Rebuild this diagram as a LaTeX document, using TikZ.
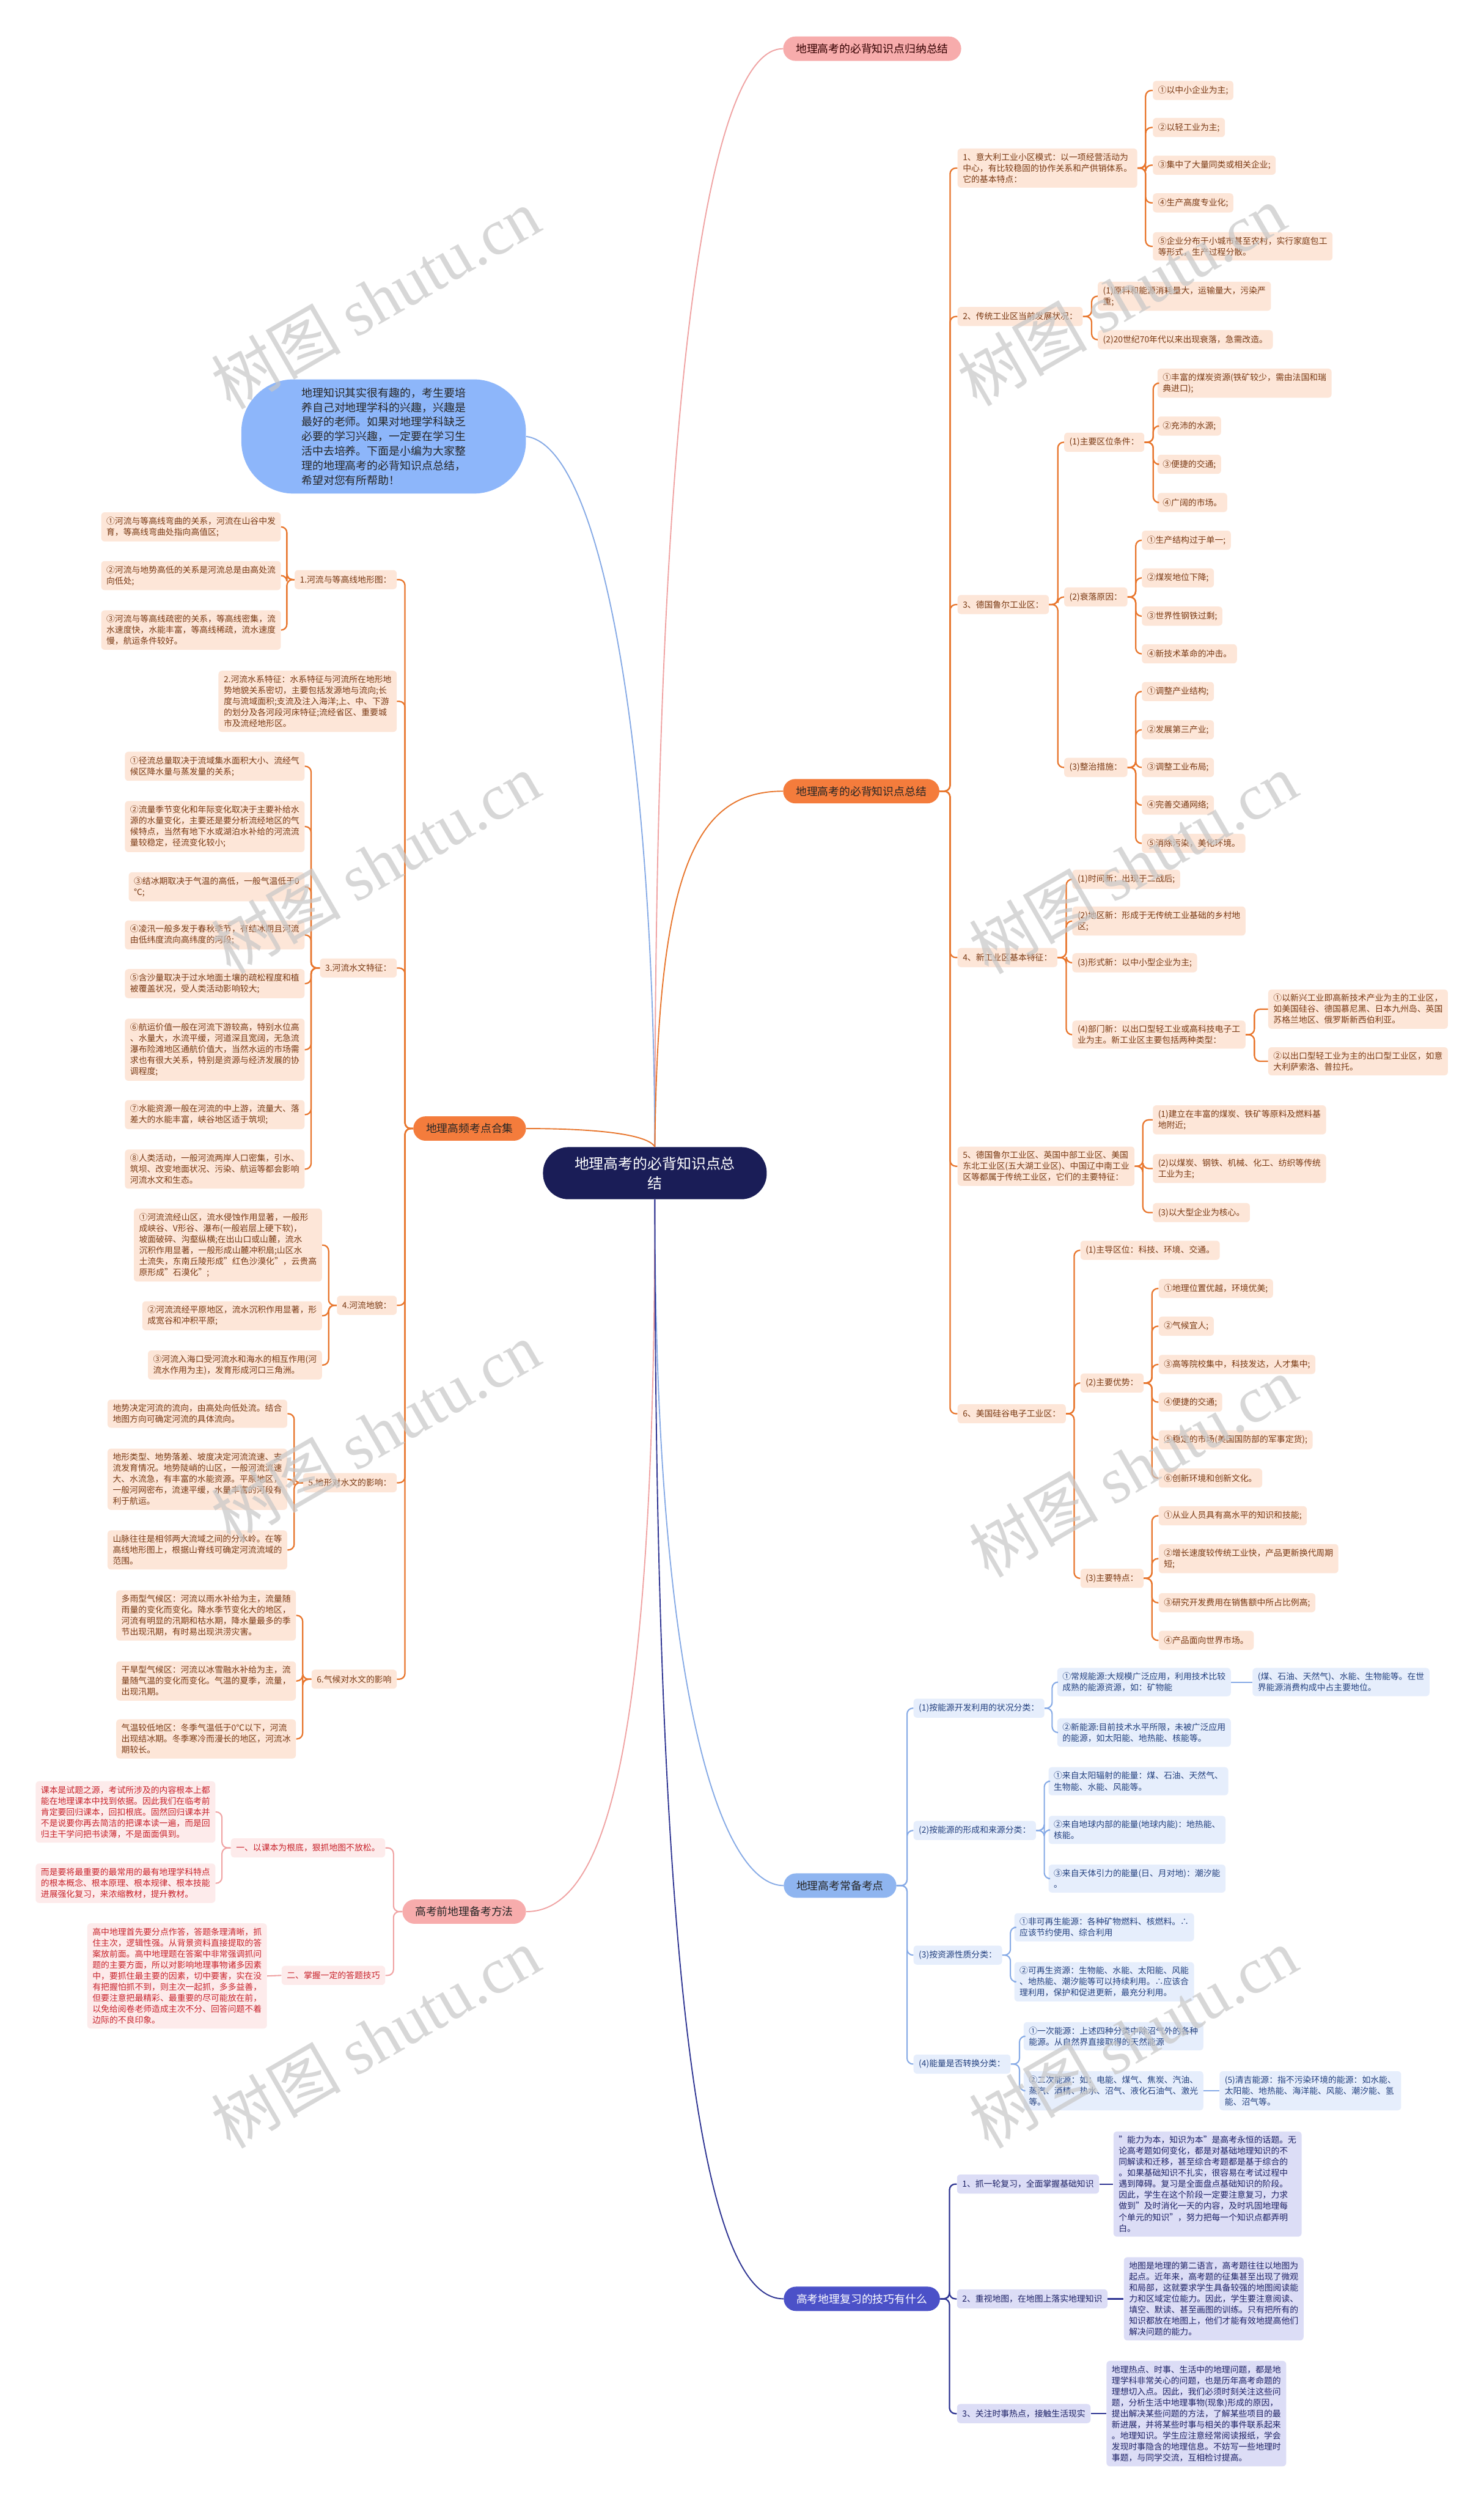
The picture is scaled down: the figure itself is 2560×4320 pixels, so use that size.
\documentclass[tikz,border=0pt]{standalone}
\usepackage{fontspec}
\setmainfont{Noto Sans CJK SC}
\newfontfamily\wmserif{Liberation Serif}
\usetikzlibrary{calc}
\definecolor{peachbg}{HTML}{FDE6D8}
\definecolor{peachtx}{HTML}{7A3A14}
\definecolor{orline}{HTML}{E8762D}
\definecolor{orfill}{HTML}{F47C3C}
\definecolor{pinkbg}{HTML}{FDEBEB}
\definecolor{pinktx}{HTML}{C8232C}
\definecolor{pkline}{HTML}{F0A3A3}
\definecolor{pkfill}{HTML}{F7ACAC}
\definecolor{bluebg}{HTML}{E6EEFC}
\definecolor{bluetx}{HTML}{23407E}
\definecolor{blline}{HTML}{86AAE6}
\definecolor{blfill}{HTML}{8FB5F0}
\definecolor{introfill}{HTML}{8DB6FA}
\definecolor{indbg}{HTML}{DCDDF6}
\definecolor{indtx}{HTML}{1E2266}
\definecolor{inline}{HTML}{2F3593}
\definecolor{indfill}{HTML}{4B51C8}
\definecolor{rootfill}{HTML}{1A1D57}
\tikzset{
  basebox/.style={font=\fontsize{7.3}{9.5}\selectfont, align=left, inner xsep=4.5pt, inner ysep=4pt, rounded corners=3pt, minimum height=16.5pt},
  pcx/.style={basebox, fill=peachbg, text=peachtx},
  pkx/.style={basebox, fill=pinkbg, text=pinktx},
  blx/.style={basebox, fill=bluebg, text=bluetx},
  inx/.style={basebox, fill=indbg, text=indtx},
  brx/.style={font=\fontsize{9.4}{12}\selectfont, rounded corners=10.5pt, minimum height=21pt, inner xsep=11pt, inner ysep=3pt},
  oln/.style={draw=orline, line width=1.2pt, rounded corners=5pt},
  pkln/.style={draw=pkline, line width=1.1pt, rounded corners=5pt},
  blln/.style={draw=blline, line width=1.1pt, rounded corners=5pt},
  inln/.style={draw=inline, line width=1.2pt, rounded corners=5pt},
  wmk/.style={text=black!22, opacity=0.7, font=\fontsize{56}{60}\selectfont, rotate=30}
}
\begin{document}
\begin{tikzpicture}[x=0.5pt,y=-0.5pt]
\useasboundingbox[fill=white] (0,0) rectangle (2560,4320);

% root and main branches
\node[fill=rootfill, text=white, font=\fontsize{12.6}{17}\selectfont, align=center, minimum width=193pt, minimum height=45pt, rounded corners=22pt] (root) at (1130,2024) {地理高考的必背知识点总\\结};
\node[brx, fill=pkfill, text=black!80!red, anchor=west] (b1) at (1351,84) {地理高考的必背知识点归纳总结};
\node[brx, fill=orfill, text=black!85, anchor=west] (b2) at (1351,1365) {地理高考的必背知识点总结};
\node[brx, fill=orfill, text=black!85, anchor=east] (b3) at (908,1947) {地理高频考点合集};
\node[brx, fill=pkfill, text=black!85, anchor=west] (b4) at (694,3298) {高考前地理备考方法};
\node[brx, fill=blfill, text=black!85, anchor=west] (b5) at (1352,3253) {地理高考常备考点};
\node[brx, fill=indfill, text=white, anchor=west] (b6) at (1352,3966) {高考地理复习的技巧有什么};
\node[fill=introfill, text=black!85, font=\fontsize{9.45}{12.6}\selectfont, align=left, minimum width=245.5pt, minimum height=98.5pt, rounded corners=45pt] (intro) at (662,753) {地理知识其实很有趣的，考生要培\\养自己对地理学科的兴趣，兴趣是\\最好的老师。如果对地理学科缺乏\\必要的学习兴趣，一定要在学习生\\活中去培养。下面是小编为大家整\\理的地理高考的必背知识点总结，\\希望对您有所帮助！};

\draw[draw=pkline, line width=1pt] (root.north) .. controls (1130,600) and (1230,84) .. (b1.west);
\draw[draw=blline, line width=1pt] (intro.east) .. controls (1040,770) and (1128,1300) .. (root.north);
\draw[draw=orline, line width=1pt] (root.north) .. controls (1135,1500) and (1200,1365) .. (b2.west);
\draw[draw=orline, line width=1pt] (b3.east) .. controls (1050,1947) and (1120,1960) .. (root.north);
\draw[draw=pkline, line width=1pt] (root.south) .. controls (1130,3000) and (1050,3298) .. (b4.east);
\draw[draw=blline, line width=1pt] (root.south) .. controls (1130,2950) and (1250,3253) .. (b5.west);
\draw[draw=inline, line width=1pt] (root.south) .. controls (1130,3700) and (1250,3966) .. (b6.west);

% ===== branch 2 (orange, right) =====
\node[pcx, anchor=west] (c1) at (1652,290) {1、意大利工业小区模式：以一项经营活动为\\中心，有比较稳固的协作关系和产供销体系。\\它的基本特点：};
\node[pcx, anchor=west] (c1a) at (1989,156) {①以中小企业为主;};
\node[pcx, anchor=west] (c1b) at (1989,220) {②以轻工业为主;};
\node[pcx, anchor=west] (c1c) at (1989,285) {③集中了大量同类或相关企业;};
\node[pcx, anchor=west] (c1d) at (1989,350) {④生产高度专业化;};
\node[pcx, anchor=west] (c1e) at (1989,425) {⑤企业分布于小城市甚至农村，实行家庭包工\\等形式，生产过程分散。};
\node[pcx, anchor=west] (c2) at (1652,546) {2、传统工业区当前发展状况：};
\node[pcx, anchor=west] (c2a) at (1894,511) {(1)原料和能源消耗量大，运输量大，污染严\\重;};
\node[pcx, anchor=west] (c2b) at (1894,586) {(2)20世纪70年代以来出现衰落，急需改造。};
\node[pcx, anchor=west] (c3) at (1652,1043) {3、德国鲁尔工业区：};
\node[pcx, anchor=west] (c3a) at (1836,763) {(1)主要区位条件：};
\node[pcx, anchor=west] (c3a1) at (1997,661) {①丰富的煤炭资源(铁矿较少，需由法国和瑞\\典进口);};
\node[pcx, anchor=west] (c3a2) at (1997,735) {②充沛的水源;};
\node[pcx, anchor=west] (c3a3) at (1997,801) {③便捷的交通;};
\node[pcx, anchor=west] (c3a4) at (1997,867) {④广阔的市场。};
\node[pcx, anchor=west] (c3b) at (1836,1030) {(2)衰落原因：};
\node[pcx, anchor=west] (c3b1) at (1970,932) {①生产结构过于单一;};
\node[pcx, anchor=west] (c3b2) at (1970,997) {②煤炭地位下降;};
\node[pcx, anchor=west] (c3b3) at (1970,1063) {③世界性钢铁过剩;};
\node[pcx, anchor=west] (c3b4) at (1970,1128) {④新技术革命的冲击。};
\node[pcx, anchor=west] (c3c) at (1836,1324) {(3)整治措施：};
\node[pcx, anchor=west] (c3c1) at (1970,1193) {①调整产业结构;};
\node[pcx, anchor=west] (c3c2) at (1970,1259) {②发展第三产业;};
\node[pcx, anchor=west] (c3c3) at (1970,1324) {③调整工业布局;};
\node[pcx, anchor=west] (c3c4) at (1970,1389) {④完善交通网络;};
\node[pcx, anchor=west] (c3c5) at (1970,1455) {⑤消除污染，美化环境。};
\node[pcx, anchor=west] (c4) at (1652,1652) {4、新工业区基本特征：};
\node[pcx, anchor=west] (c4a) at (1850,1517) {(1)时间新：出现于二战后;};
\node[pcx, anchor=west] (c4b) at (1850,1589) {(2)地区新：形成于无传统工业基础的乡村地\\区;};
\node[pcx, anchor=west] (c4c) at (1850,1661) {(3)形式新：以中小型企业为主;};
\node[pcx, anchor=west] (c4d) at (1850,1785) {(4)部门新：以出口型轻工业或高科技电子工\\业为主。新工业区主要包括两种类型：};
\node[pcx, anchor=west] (c4d1) at (2188,1741) {①以新兴工业即高新技术产业为主的工业区，\\如美国硅谷、德国慕尼黑、日本九州岛、英国\\苏格兰地区、俄罗斯新西伯利亚。};
\node[pcx, anchor=west] (c4d2) at (2188,1831) {②以出口型轻工业为主的出口型工业区，如意\\大利萨索洛、普拉托。};
\node[pcx, anchor=west] (c5) at (1652,2012) {5、德国鲁尔工业区、英国中部工业区、美国\\东北工业区(五大湖工业区)、中国辽中南工业\\区等都属于传统工业区，它们的主要特征：};
\node[pcx, anchor=west] (c5a) at (1989,1932) {(1)建立在丰富的煤炭、铁矿等原料及燃料基\\地附近;};
\node[pcx, anchor=west] (c5b) at (1989,2016) {(2)以煤炭、钢铁、机械、化工、纺织等传统\\工业为主;};
\node[pcx, anchor=west] (c5c) at (1989,2092) {(3)以大型企业为核心。};
\node[pcx, anchor=west] (c6) at (1652,2439) {6、美国硅谷电子工业区：};
\node[pcx, anchor=west] (c6a) at (1864,2157) {(1)主导区位：科技、环境、交通。};
\node[pcx, anchor=west] (c6b) at (1864,2386) {(2)主要优势：};
\node[pcx, anchor=west] (c6b1) at (1999,2223) {①地理位置优越，环境优美;};
\node[pcx, anchor=west] (c6b2) at (1999,2288) {②气候宜人;};
\node[pcx, anchor=west] (c6b3) at (1999,2354) {③高等院校集中，科技发达，人才集中;};
\node[pcx, anchor=west] (c6b4) at (1999,2419) {④便捷的交通;};
\node[pcx, anchor=west] (c6b5) at (1999,2484) {⑤稳定的市场(美国国防部的军事定货);};
\node[pcx, anchor=west] (c6b6) at (1999,2550) {⑥创新环境和创新文化。};
\node[pcx, anchor=west] (c6c) at (1864,2723) {(3)主要特点：};
\node[pcx, anchor=west] (c6c1) at (1999,2615) {①从业人员具有高水平的知识和技能;};
\node[pcx, anchor=west] (c6c2) at (1999,2689) {②增长速度较传统工业快，产品更新换代周期\\短;};
\node[pcx, anchor=west] (c6c3) at (1999,2765) {③研究开发费用在销售额中所占比例高;};
\node[pcx, anchor=west] (c6c4) at (1999,2830) {④产品面向世界市场。};

\foreach \c in {c1,c2,c3,c4,c5,c6} \draw[oln] (b2.east) -- ++(18,0) |- (\c.west);
\foreach \c in {c1a,c1b,c1c,c1d,c1e} \draw[oln] (c1.east) -- ++(14,0) |- (\c.west);
\foreach \c in {c2a,c2b} \draw[oln] (c2.east) -- ++(15,0) |- (\c.west);
\foreach \c in {c3a,c3b,c3c} \draw[oln] (c3.east) -- ++(15,0) |- (\c.west);
\foreach \c in {c3a1,c3a2,c3a3,c3a4} \draw[oln] (c3a.east) -- ++(15,0) |- (\c.west);
\foreach \c in {c3b1,c3b2,c3b3,c3b4} \draw[oln] (c3b.east) -- ++(14,0) |- (\c.west);
\foreach \c in {c3c1,c3c2,c3c3,c3c4,c3c5} \draw[oln] (c3c.east) -- ++(14,0) |- (\c.west);
\foreach \c in {c4a,c4b,c4c,c4d} \draw[oln] (c4.east) -- ++(15,0) |- (\c.west);
\foreach \c in {c4d1,c4d2} \draw[oln] (c4d.east) -- ++(15,0) |- (\c.west);
\foreach \c in {c5a,c5b,c5c} \draw[oln] (c5.east) -- ++(14,0) |- (\c.west);
\foreach \c in {c6a,c6b,c6c} \draw[oln] (c6.east) -- ++(14,0) |- (\c.west);
\foreach \c in {c6b1,c6b2,c6b3,c6b4,c6b5,c6b6} \draw[oln] (c6b.east) -- ++(14,0) |- (\c.west);
\foreach \c in {c6c1,c6c2,c6c3,c6c4} \draw[oln] (c6c.east) -- ++(14,0) |- (\c.west);

% ===== branch 5 (blue) =====
\node[blx, anchor=west] (d1) at (1576,2947) {(1)按能源开发利用的状况分类：};
\node[blx, anchor=west] (d1a) at (1824,2902) {①常规能源:大规模广泛应用，利用技术比较\\成熟的能源资源，如：矿物能};
\node[blx, anchor=west] (d1a1) at (2161,2902) {(煤、石油、天然气)、水能、生物能等。在世\\界能源消费构成中占主要地位。};
\node[blx, anchor=west] (d1b) at (1824,2989) {②新能源:目前技术水平所限，未被广泛应用\\的能源，如太阳能、地热能、核能等。};
\node[blx, anchor=west] (d2) at (1576,3158) {(2)按能源的形成和来源分类：};
\node[blx, anchor=west] (d2a) at (1809,3073) {①来自太阳辐射的能量：煤、石油、天然气、\\生物能、水能、风能等。};
\node[blx, anchor=west] (d2b) at (1809,3157) {②来自地球内部的能量(地球内能)：地热能、\\核能。};
\node[blx, anchor=west] (d2c) at (1809,3241) {③来自天体引力的能量(日、月对地)：潮汐能\\。};
\node[blx, anchor=west] (d3) at (1576,3373) {(3)按资源性质分类：};
\node[blx, anchor=west] (d3a) at (1750,3325) {①非可再生能源：各种矿物燃料、核燃料。∴\\应该节约使用、综合利用};
\node[blx, anchor=west] (d3b) at (1750,3419) {②可再生资源：生物能、水能、太阳能、风能\\、地热能、潮汐能等可以持续利用。∴应该合\\理利用，保护和促进更新，最充分利用。};
\node[blx, anchor=west] (d4) at (1576,3561) {(4)能量是否转换分类：};
\node[blx, anchor=west] (d4a) at (1766,3513) {①一次能源：上述四种分类中除沼气外的各种\\能源。从自然界直接取得的天然能源};
\node[blx, anchor=west] (d4b) at (1766,3607) {②二次能源：如：电能、煤气、焦炭、汽油、\\蒸汽、酒精、热水、沼气、液化石油气、激光\\等。};
\node[blx, anchor=west] (d4b1) at (2104,3607) {(5)清吉能源：指不污染环境的能源：如水能、\\太阳能、地热能、海洋能、风能、潮汐能、氢\\能、沼气等。};

\foreach \c in {d1,d2,d3,d4} \draw[blln] (b5.east) -- ++(18,0) |- (\c.west);
\foreach \c in {d1a,d1b} \draw[blln] (d1.east) -- ++(13,0) |- (\c.west);
\foreach \c in {d2a,d2b,d2c} \draw[blln] (d2.east) -- ++(14,0) |- (\c.west);
\foreach \c in {d3a,d3b} \draw[blln] (d3.east) -- ++(14,0) |- (\c.west);
\foreach \c in {d4a,d4b} \draw[blln] (d4.east) -- ++(15,0) |- (\c.west);
\draw[blln] (d1a.east) -- (d1a1.west);
\draw[blln] (d4b.east) -- (d4b1.west);

% ===== branch 6 (indigo) =====
\node[inx, anchor=west] (e1) at (1651,3768) {1、抓一轮复习，全面掌握基础知识};
\node[inx, anchor=west] (e1t) at (1921,3768) {"能力为本，知识为本"是高考永恒的话题。无\\论高考题如何变化，都是对基础地理知识的不\\同解读和迁移，甚至综合考题都是基于综合的\\。如果基础知识不扎实，很容易在考试过程中\\遇到障碍。复习是全面盘点基础知识的阶段。\\因此，学生在这个阶段一定要注意复习，力求\\做到"及时消化一天的内容，及时巩固地理每\\个单元的知识"，努力把每一个知识点都弄明\\白。};
\node[inx, anchor=west] (e2) at (1651,3966) {2、重视地图，在地图上落实地理知识};
\node[inx, anchor=west] (e2t) at (1939,3966) {地图是地理的第二语言，高考题往往以地图为\\起点。近年来，高考题的征集甚至出现了微观\\和局部，这就要求学生具备较强的地图阅读能\\力和区域定位能力。因此，学生要注意阅读、\\填空、默读、甚至画图的训练。只有把所有的\\知识都放在地图上，他们才能有效地提高他们\\解决问题的能力。};
\node[inx, anchor=west] (e3) at (1651,4164) {3、关注时事热点，接触生活现实};
\node[inx, anchor=west] (e3t) at (1909,4164) {地理热点、时事、生活中的地理问题，都是地\\理学科非常关心的问题，也是历年高考命题的\\理想切入点。因此，我们必须时刻关注这些问\\题，分析生活中地理事物(现象)形成的原因，\\提出解决某些问题的方法，了解某些项目的最\\新进展，并将某些时事与相关的事件联系起来\\。地理知识。学生应注意经常阅读报纸，学会\\发现时事隐含的地理信息。不妨写一些地理时\\事题，与同学交流，互相检讨提高。};

\foreach \c in {e1,e2,e3} \draw[inln] (b6.east) -- ++(16,0) |- (\c.west);
\draw[inln] (e1.east) -- (e1t.west);
\draw[inln] (e2.east) -- (e2t.west);
\draw[inln] (e3.east) -- (e3t.west);

% ===== branch 3 (orange, left) =====
\node[pcx, anchor=east] (f1) at (685,1000) {1.河流与等高线地形图：};
\node[pcx, anchor=east] (f1a) at (485,909) {①河流与等高线弯曲的关系，河流在山谷中发\\育，等高线弯曲处指向高值区;};
\node[pcx, anchor=east] (f1b) at (485,993) {②河流与地势高低的关系是河流总是由高处流\\向低处;};
\node[pcx, anchor=east] (f1c) at (485,1087) {③河流与等高线疏密的关系，等高线密集，流\\水速度快，水能丰富，等高线稀疏，流水速度\\慢，航运条件较好。};
\node[pcx, anchor=east] (f2) at (685,1210) {2.河流水系特征：水系特征与河流所在地形地\\势地貌关系密切，主要包括发源地与流向;长\\度与流域面积;支流及注入海洋;上、中、下游\\的划分及各河段河床特征;流经省区、重要城\\市及流经地形区。};
\node[pcx, anchor=east] (f3) at (685,1670) {3.河流水文特征：};
\node[pcx, anchor=east] (f3a) at (526,1322) {①径流总量取决于流域集水面积大小、流经气\\候区降水量与蒸发量的关系;};
\node[pcx, anchor=east] (f3b) at (526,1426) {②流量季节变化和年际变化取决于主要补给水\\源的水量变化，主要还是要分析流经地区的气\\候特点，当然有地下水或湖泊水补给的河流流\\量较稳定，径流变化较小;};
\node[pcx, anchor=east] (f3c) at (526,1530) {③结冰期取决于气温的高低，一般气温低于0\\℃;};
\node[pcx, anchor=east] (f3d) at (526,1613) {④凌汛一般多发于春秋季节，有结冰期且河流\\由低纬度流向高纬度的河段;};
\node[pcx, anchor=east] (f3e) at (526,1697) {⑤含沙量取决于过水地面土壤的疏松程度和植\\被覆盖状况，受人类活动影响较大;};
\node[pcx, anchor=east] (f3f) at (526,1811) {⑥航运价值一般在河流下游较高，特别水位高\\、水量大，水流平缓，河道深且宽阔，无急流\\瀑布险滩地区通航价值大，当然水运的市场需\\求也有很大关系，特别是资源与经济发展的协\\调程度;};
\node[pcx, anchor=east] (f3g) at (526,1923) {⑦水能资源一般在河流的中上游，流量大、落\\差大的水能丰富，峡谷地区适于筑坝;};
\node[pcx, anchor=east] (f3h) at (526,2017) {⑧人类活动，一般河流两岸人口密集，引水、\\筑坝、改变地面状况、污染、航运等都会影响\\河流水文和生态。};
\node[pcx, anchor=east] (f4) at (685,2252) {4.河流地貌：};
\node[pcx, anchor=east] (f4a) at (556,2148) {①河流流经山区，流水侵蚀作用显著，一般形\\成峡谷、V形谷、瀑布(一般岩层上硬下软)，\\坡面破碎、沟壑纵横;在出山口或山麓，流水\\沉积作用显著，一般形成山麓冲积扇;山区水\\土流失，东南丘陵形成"红色沙漠化"，云贵高\\原形成"石漠化";};
\node[pcx, anchor=east] (f4b) at (556,2270) {②河流流经平原地区，流水沉积作用显著，形\\成宽谷和冲积平原;};
\node[pcx, anchor=east] (f4c) at (556,2355) {③河流入海口受河流水和海水的相互作用(河\\流水作用为主)，发育形成河口三角洲。};
\node[pcx, anchor=east] (f5) at (685,2558) {5.地形对水文的影响：};
\node[pcx, anchor=east] (f5a) at (496,2439) {地势决定河流的流向，由高处向低处流。结合\\地图方向可确定河流的具体流向。};
\node[pcx, anchor=east] (f5b) at (496,2552) {地形类型、地势落差、坡度决定河流流速、支\\流发育情况。地势陡峭的山区，一般河流流速\\大、水流急，有丰富的水能资源。平原地区，\\一般河网密布，流速平缓，水量丰富的河段有\\利于航运。};
\node[pcx, anchor=east] (f5c) at (496,2674) {山脉往往是相邻两大流域之间的分水岭。在等\\高线地形图上，根据山脊线可确定河流流域的\\范围。};
\node[pcx, anchor=east] (f6) at (685,2897) {6.气候对水文的影响};
\node[pcx, anchor=east] (f6a) at (511,2787) {多雨型气候区：河流以雨水补给为主，流量随\\雨量的变化而变化。降水季节变化大的地区，\\河流有明显的汛期和枯水期，降水量最多的季\\节出现汛期，有时易出现洪涝灾害。};
\node[pcx, anchor=east] (f6b) at (511,2900) {干旱型气候区：河流以冰雪融水补给为主，流\\量随气温的变化而变化。气温的夏季，流量，\\出现汛期。};
\node[pcx, anchor=east] (f6c) at (511,3000) {气温较低地区：冬季气温低于0℃以下，河流\\出现结冰期。冬季寒冷而漫长的地区，河流冰\\期较长。};

\foreach \c in {f1,f2,f3,f4,f5,f6} \draw[oln] (b3.west) -- ++(-14,0) |- (\c.east);
\foreach \c in {f1a,f1b,f1c} \draw[oln] (f1.west) -- ++(-13,0) |- (\c.east);
\foreach \c in {f3a,f3b,f3c,f3d,f3e,f3f,f3g,f3h} \draw[oln] (f3.west) -- ++(-15,0) |- (\c.east);
\foreach \c in {f4a,f4b,f4c} \draw[oln] (f4.west) -- ++(-14,0) |- (\c.east);
\foreach \c in {f5a,f5b,f5c} \draw[oln] (f5.west) -- ++(-15,0) |- (\c.east);
\foreach \c in {f6a,f6b,f6c} \draw[oln] (f6.west) -- ++(-15,0) |- (\c.east);

% ===== branch 4 (pink, left) =====
\node[pkx, anchor=east] (g1) at (665,3188) {一、以课本为根底，狠抓地图不放松。};
\node[pkx, anchor=east] (g1a) at (372,3126) {课本是试题之源，考试所涉及的内容根本上都\\能在地理课本中找到依据。因此我们在临考前\\肯定要回归课本，回扣根底。固然回归课本并\\不是说要你再去简洁的把课本读一遍，而是回\\归主干学问把书读薄，不是面面俱到。};
\node[pkx, anchor=east] (g1b) at (372,3249) {而是要将最重要的最常用的最有地理学科特点\\的根本概念、根本原理、根本规律、根本技能\\进展强化复习，来浓缩教材，提升教材。};
\node[pkx, anchor=east] (g2) at (665,3408) {二、掌握一定的答题技巧};
\node[pkx, anchor=east] (g2t) at (461,3409) {高中地理首先要分点作答，答题条理清晰，抓\\住主次，逻辑性强。从背景资料直接提取的答\\案放前面。高中地理题在答案中非常强调抓问\\题的主要方面，所以对影响地理事物诸多因素\\中，要抓住最主要的因素，切中要害，实在没\\有把握怕抓不到，则主次一起抓，多多益善，\\但要注意把最精彩、最重要的尽可能放在前，\\以免给阅卷老师造成主次不分、回答问题不着\\边际的不良印象。};

\foreach \c in {g1,g2} \draw[pkln] (b4.west) -- ++(-15,0) |- (\c.east);
\foreach \c in {g1a,g1b} \draw[pkln] (g1.west) -- ++(-15,0) |- (\c.east);
\draw[pkln] (g2.west) -- (g2t.east);

% ===== watermarks =====
\foreach \p in {(648,515),(1935,510),(648,1490),(1955,1490),(648,2470),(1955,2530),(648,3515),(1955,3515)}
  \node[wmk] at \p {树图 {\wmserif shutu.cn}};
\end{tikzpicture}
\end{document}
